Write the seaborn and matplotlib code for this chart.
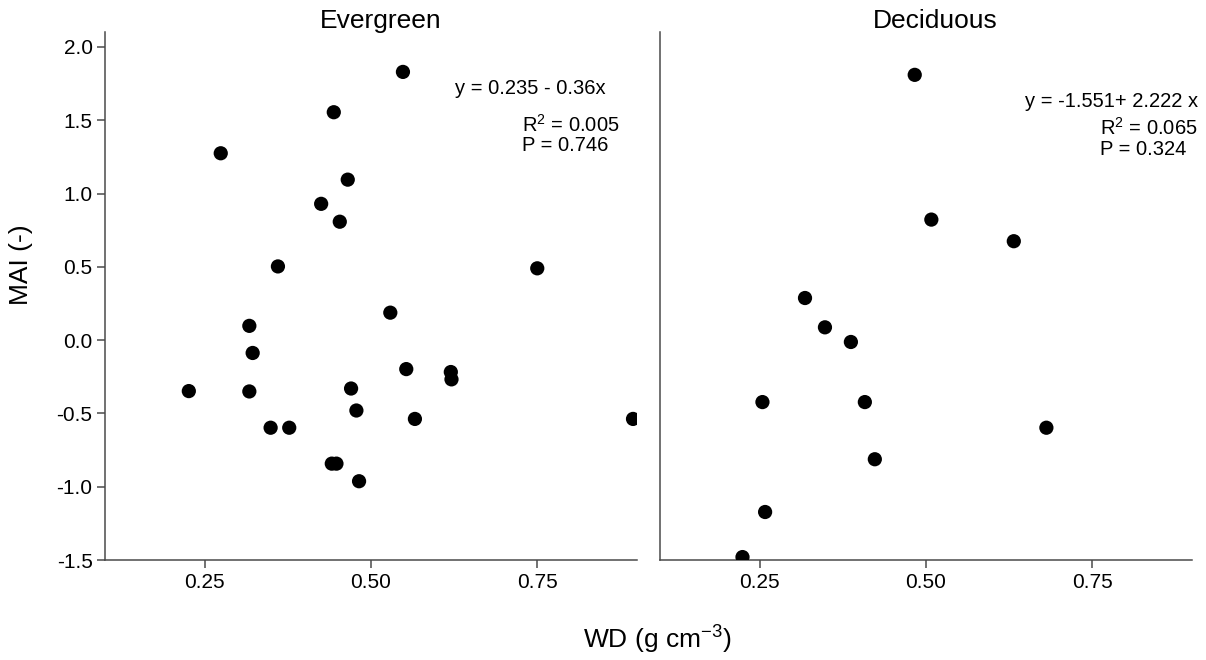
import matplotlib
matplotlib.use("Agg")
import matplotlib.pyplot as plt
import seaborn as sns
import pandas as pd
from matplotlib.ticker import FixedLocator, FormatStrFormatter

# Wood density (WD) and MAI for evergreen and deciduous species
ever_wd = [0.548, 0.444, 0.274, 0.465, 0.425, 0.453, 0.360, 0.750, 0.529,
           0.317, 0.322, 0.553, 0.620, 0.621, 0.226, 0.317, 0.470, 0.478,
           0.566, 0.894, 0.349, 0.377, 0.441, 0.448, 0.482]
ever_mai = [1.83, 1.555, 1.275, 1.095, 0.93, 0.808, 0.503, 0.49, 0.1875,
            0.0975, -0.0875, -0.1975, -0.2175, -0.2675, -0.3475, -0.35,
            -0.33, -0.48, -0.5375, -0.5375, -0.5975, -0.5975, -0.8425,
            -0.8425, -0.9625]

deci_wd = [0.483, 0.508, 0.632, 0.318, 0.348, 0.387, 0.254, 0.408, 0.681,
           0.423, 0.258, 0.224]
deci_mai = [1.81, 0.8225, 0.675, 0.2875, 0.0875, -0.0125, -0.4225, -0.4225,
            -0.5975, -0.8125, -1.1725, -1.48]

panel_titles = ["Evergreen", "Deciduous"]
equations = ["y = 0.235 - 0.36x", "y = -1.551+ 2.222 x"]
r2_labels = [r"R$^\mathregular{2}$ = 0.005", r"R$^\mathregular{2}$ = 0.065"]
p_labels = ["P = 0.746", "P = 0.324"]

x_ticks = [0.25, 0.50, 0.75]
y_ticks = [-1.5, -1.0, -0.5, 0.0, 0.5, 1.0, 1.5, 2.0]

sns.set_style("ticks")
plt.rcParams["font.family"] = ["Liberation Sans", "DejaVu Sans"]
plt.rcParams["mathtext.fontset"] = "custom"
plt.rcParams["mathtext.rm"] = "Liberation Sans"
plt.rcParams["mathtext.it"] = "Liberation Sans:italic"
plt.rcParams["axes.unicode_minus"] = False
plt.rcParams["text.color"] = "black"

frames = [
    pd.DataFrame({"WD": ever_wd, "MAI": ever_mai}),
    pd.DataFrame({"WD": deci_wd, "MAI": deci_mai}),
]

fig = plt.figure(figsize=(12.06, 6.6), dpi=100)
ax_w = 0.4411
ax_b, ax_h = 0.1515, 0.7995
ax1 = fig.add_axes([0.0871, ax_b, ax_w, ax_h])
ax2 = fig.add_axes([0.5473, ax_b, ax_w, ax_h])
axes = [ax1, ax2]

spine_col = "#4a4a4a"
eq_pos = [(0.626, 1.72), (0.649, 1.63)]
r2_pos = [(0.727, 1.468), (0.762, 1.445)]
p_pos = [(0.727, 1.325), (0.762, 1.300)]
title_x = [381 / 1206, 935 / 1206]

for i, (ax, df) in enumerate(zip(axes, frames)):
    sns.scatterplot(data=df, x="WD", y="MAI", ax=ax, color="black",
                    s=105, edgecolor="none", linewidth=0, zorder=3)
    ax.set_xlim(0.10, 0.90)
    ax.set_ylim(-1.5, 2.1)
    ax.xaxis.set_major_locator(FixedLocator(x_ticks))
    ax.xaxis.set_major_formatter(FormatStrFormatter("%.2f"))
    ax.yaxis.set_major_locator(FixedLocator(y_ticks))
    ax.yaxis.set_major_formatter(FormatStrFormatter("%.1f"))
    for side in ("top", "right"):
        ax.spines[side].set_visible(False)
    for side in ("left", "bottom"):
        ax.spines[side].set_color(spine_col)
        ax.spines[side].set_linewidth(1.1)
    ax.tick_params(axis="both", direction="out", length=6, width=1.1,
                   color=spine_col, labelsize=15, labelcolor="black", pad=3)
    ax.set_xlabel("")
    ax.set_ylabel("")
    ax.text(*eq_pos[i], equations[i], fontsize=14.5, va="center", ha="left",
            color="black")
    ax.text(*r2_pos[i], r2_labels[i], fontsize=14.5, va="center", ha="left",
            color="black")
    ax.text(*p_pos[i], p_labels[i], fontsize=14.5, va="center", ha="left",
            color="black")
    fig.text(title_x[i], 1 - 21 / 660, panel_titles[i], fontsize=19,
             ha="center", va="center", color="black")

ax2.tick_params(axis="y", left=False, labelleft=False)

fig.text(21 / 1206, 1 - 265 / 660, "MAI (-)", fontsize=19, rotation=90,
         ha="center", va="center", color="black")
fig.text(657 / 1206, 1 - 640 / 660, r"WD (g cm$^\mathregular{-3}$)",
         fontsize=19, ha="center", va="center", color="black")

fig.savefig("out.png", dpi=100)
